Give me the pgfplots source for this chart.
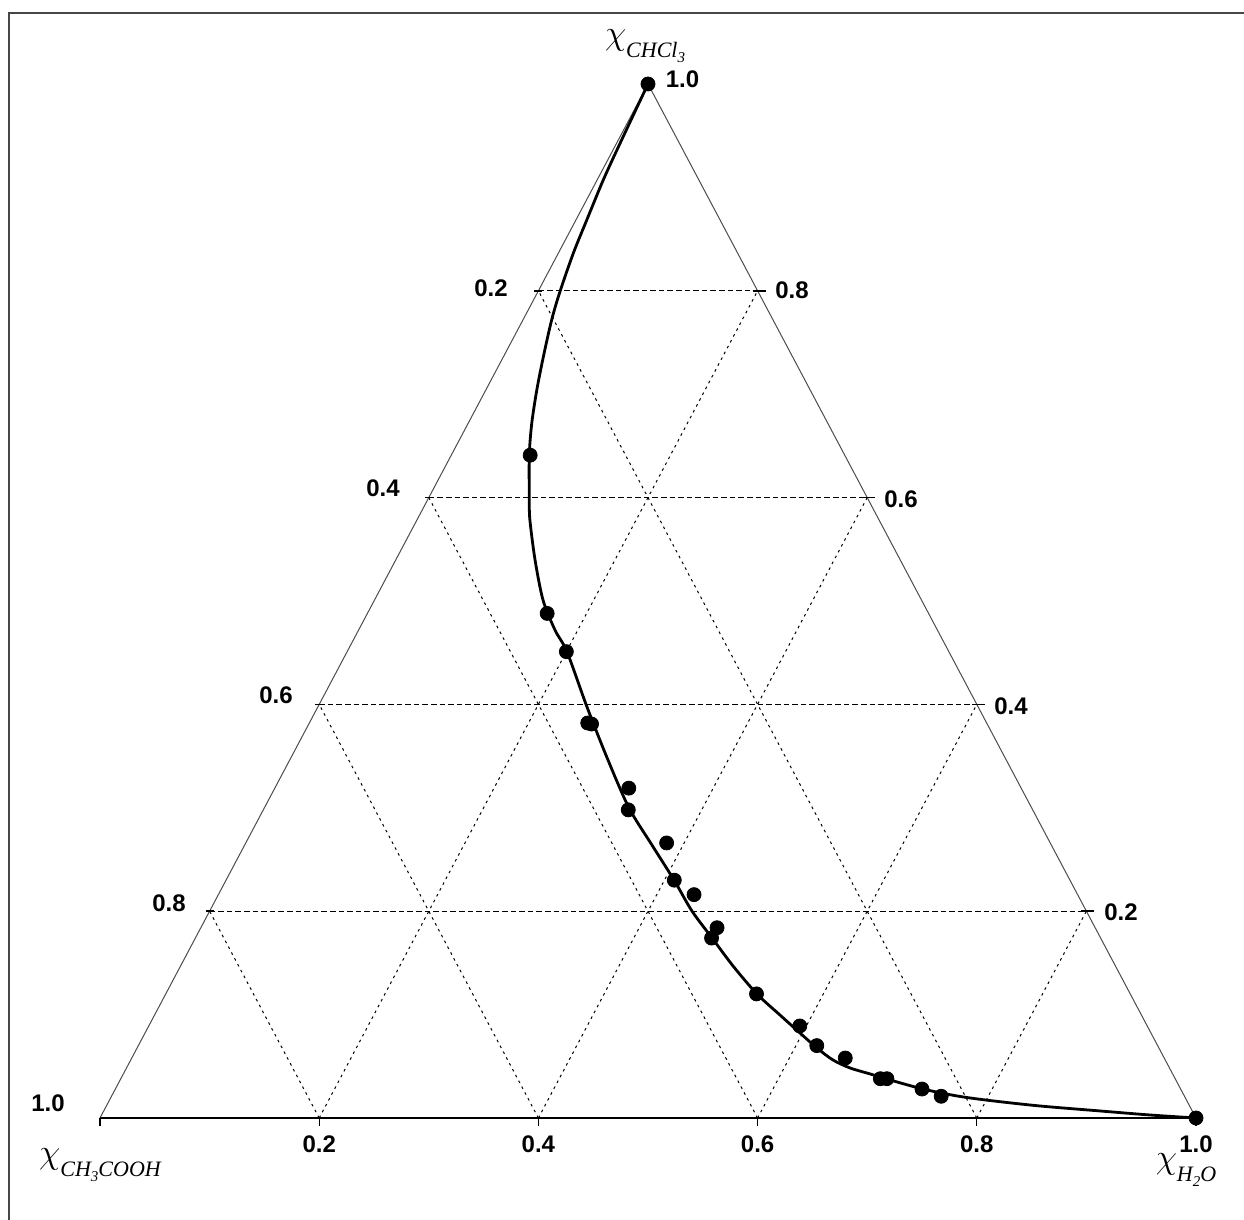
\documentclass[border=0pt]{standalone}
\usepackage{pgfplots}
\pgfplotsset{compat=1.18}
\usepackage{pgfplotstable}
\usepackage{fontspec}
\setmainfont{Liberation Sans}
\newfontfamily\subfont{Liberation Serif}

% Measured equilibrium compositions (mole fractions of H2O and CHCl3;
% CH3COOH makes up the rest)
\pgfplotstableread{
h     c
0.000 1.000
0.072 0.641
0.164 0.488
0.200 0.451
0.254 0.382
0.258 0.381
0.323 0.319
0.333 0.298
0.384 0.266
0.409 0.230
0.434 0.216
0.471 0.184
0.471 0.174
0.539 0.120
0.594 0.089
0.619 0.070
0.651 0.058
0.693 0.038
0.699 0.038
0.736 0.028
0.757 0.021
1.000 0.000
}\points

% Binodal curve
\pgfplotstableread{
h      c
0.0000 1.0000
0.0032 0.9426
0.0056 0.9072
0.0099 0.8685
0.0137 0.8363
0.0201 0.7991
0.0262 0.7718
0.0364 0.7363
0.0465 0.7041
0.0580 0.6719
0.0711 0.6412
0.0924 0.5986
0.1031 0.5783
0.1271 0.5397
0.1537 0.5010
0.1791 0.4720
0.2008 0.4507
0.2456 0.3975
0.2904 0.3462
0.3328 0.2998
0.3716 0.2640
0.4086 0.2302
0.4400 0.2002
0.4714 0.1741
0.5041 0.1470
0.5395 0.1199
0.5706 0.0996
0.5976 0.0822
0.6203 0.0677
0.6407 0.0561
0.6601 0.0484
0.6813 0.0426
0.7024 0.0368
0.7369 0.0280
0.7713 0.0213
0.8035 0.0169
0.8519 0.0116
0.9090 0.0068
0.9565 0.0029
1.0000 0.0000
}\curve

\newcommand{\lowsub}[1]{\raisebox{-2.6pt}{\fontsize{7.5}{9}\selectfont #1}}
\newcommand{\chilabel}[1]{%
  {\fontsize{19}{20}\selectfont$\chi$}%
  \raisebox{-6.5pt}{\fontsize{11}{12}\selectfont\subfont\itshape #1}}

\tikzset{
  hgrid/.style={black, line width=0.6pt, dash pattern=on 2.8pt off 1.5pt},
  dgrid/.style={black, line width=0.5pt, dash pattern=on 1.3pt off 2pt},
  lab/.style={font=\fontsize{12}{14}\selectfont\bfseries, inner sep=0pt},
  btick/.style={black, line width=0.6pt},
  stick/.style={black, line width=0.8pt},
}

\begin{document}
\begin{tikzpicture}
\begin{axis}[
  scale only axis, width=622pt, height=610pt,
  xmin=-0.09124, xmax=1.04380, ymin=-0.09865, ymax=1.08124,
  hide axis, clip=false,
]
% picture frame
\draw[black!72, line width=1pt] (axis cs:-0.0830,-0.09865) -- (axis cs:-0.0830,1.0687) -- (axis cs:1.0438,1.0687);

% grid: constant CHCl3
\draw[hgrid] (axis cs:0.1,0.2) -- (axis cs:0.9,0.2);
\draw[hgrid] (axis cs:0.2,0.4) -- (axis cs:0.8,0.4);
\draw[hgrid] (axis cs:0.3,0.6) -- (axis cs:0.7,0.6);
\draw[hgrid] (axis cs:0.4,0.8) -- (axis cs:0.6,0.8);
% grid: constant H2O
\draw[dgrid] (axis cs:0.2,0) -- (axis cs:0.6,0.8);
\draw[dgrid] (axis cs:0.4,0) -- (axis cs:0.7,0.6);
\draw[dgrid] (axis cs:0.6,0) -- (axis cs:0.8,0.4);
\draw[dgrid] (axis cs:0.8,0) -- (axis cs:0.9,0.2);
% grid: constant CH3COOH
\draw[dgrid] (axis cs:0.8,0) -- (axis cs:0.4,0.8);
\draw[dgrid] (axis cs:0.6,0) -- (axis cs:0.3,0.6);
\draw[dgrid] (axis cs:0.4,0) -- (axis cs:0.2,0.4);
\draw[dgrid] (axis cs:0.2,0) -- (axis cs:0.1,0.2);

% triangle sides
\draw[black!70, line width=0.5pt] (axis cs:0,0) -- (axis cs:0.5,1) -- (axis cs:1,0);
\draw[black, line width=1pt] (axis cs:0,0) -- (axis cs:1,0);

% ticks on the base
\draw[btick] (axis cs:0,0) -- ++(0pt,-4pt);
\draw[btick] (axis cs:0.2,0) -- ++(0pt,-4pt);
\draw[btick] (axis cs:0.4,0) -- ++(0pt,-4pt);
\draw[btick] (axis cs:0.6,0) -- ++(0pt,-4pt);
\draw[btick] (axis cs:0.8,0) -- ++(0pt,-4pt);
\draw[btick] (axis cs:1,0) -- ++(0pt,-4pt);
% ticks on the sides
\draw[stick] (axis cs:0.1,0.2) ++(-2pt,0pt) -- ++(4pt,0pt);
\draw[stick] (axis cs:0.2,0.4) ++(-2pt,0pt) -- ++(4pt,0pt);
\draw[stick] (axis cs:0.3,0.6) ++(-2pt,0pt) -- ++(4pt,0pt);
\draw[stick] (axis cs:0.4,0.8) ++(-2pt,0pt) -- ++(4pt,0pt);
\draw[stick] (axis cs:0.9,0.2) ++(-2.5pt,0pt) -- ++(6.5pt,0pt);
\draw[stick] (axis cs:0.8,0.4) ++(-2.5pt,0pt) -- ++(6.5pt,0pt);
\draw[stick] (axis cs:0.7,0.6) ++(-2.5pt,0pt) -- ++(6.5pt,0pt);
\draw[stick] (axis cs:0.6,0.8) ++(-2.5pt,0pt) -- ++(6.5pt,0pt);

% tick labels: base (H2O)
\node[lab] at (axis cs:0.2,-0.0251) {0.2};
\node[lab] at (axis cs:0.4,-0.0251) {0.4};
\node[lab] at (axis cs:0.6,-0.0251) {0.6};
\node[lab] at (axis cs:0.8,-0.0251) {0.8};
\node[lab] at (axis cs:1.0,-0.0251) {1.0};
% left side (CH3COOH)
\node[lab] at (axis cs:0.3567,0.8027) {0.2};
\node[lab] at (axis cs:0.2582,0.6093) {0.4};
\node[lab] at (axis cs:0.1606,0.4091) {0.6};
\node[lab] at (axis cs:0.0630,0.2079) {0.8};
\node[lab] at (axis cs:-0.0474,0.0145) {1.0};
% right side (CHCl3)
\node[lab] at (axis cs:0.6314,0.8003) {0.8};
\node[lab] at (axis cs:0.7308,0.5986) {0.6};
\node[lab] at (axis cs:0.8312,0.3985) {0.4};
\node[lab] at (axis cs:0.9316,0.1992) {0.2};
\node[lab] at (axis cs:0.5315,1.0043) {1.0};

% component labels
\node[inner sep=0pt] at (axis cs:0.4973,1.0368) {\chilabel{CHCl\lowsub{3}}};
\node[inner sep=0pt] at (axis cs:0.0000,-0.0455) {\chilabel{CH\lowsub{3}COOH}};
\node[inner sep=0pt] at (axis cs:0.9909,-0.0503) {\chilabel{H\lowsub{2}O}};

% binodal curve and experimental points
\addplot[black, line width=1.4pt, smooth, tension=0.5]
  table[x expr=\thisrow{h}+0.5*\thisrow{c}, y=c] {\curve};
\addplot[only marks, mark=*, mark size=3.5pt, black]
  table[x expr=\thisrow{h}+0.5*\thisrow{c}, y=c] {\points};

\coordinate (bbsw) at (axis description cs:0,0);
\coordinate (bbne) at (axis description cs:1,1);
\end{axis}
\pgfresetboundingbox
\useasboundingbox (bbsw) rectangle (bbne);
\end{tikzpicture}
\end{document}
